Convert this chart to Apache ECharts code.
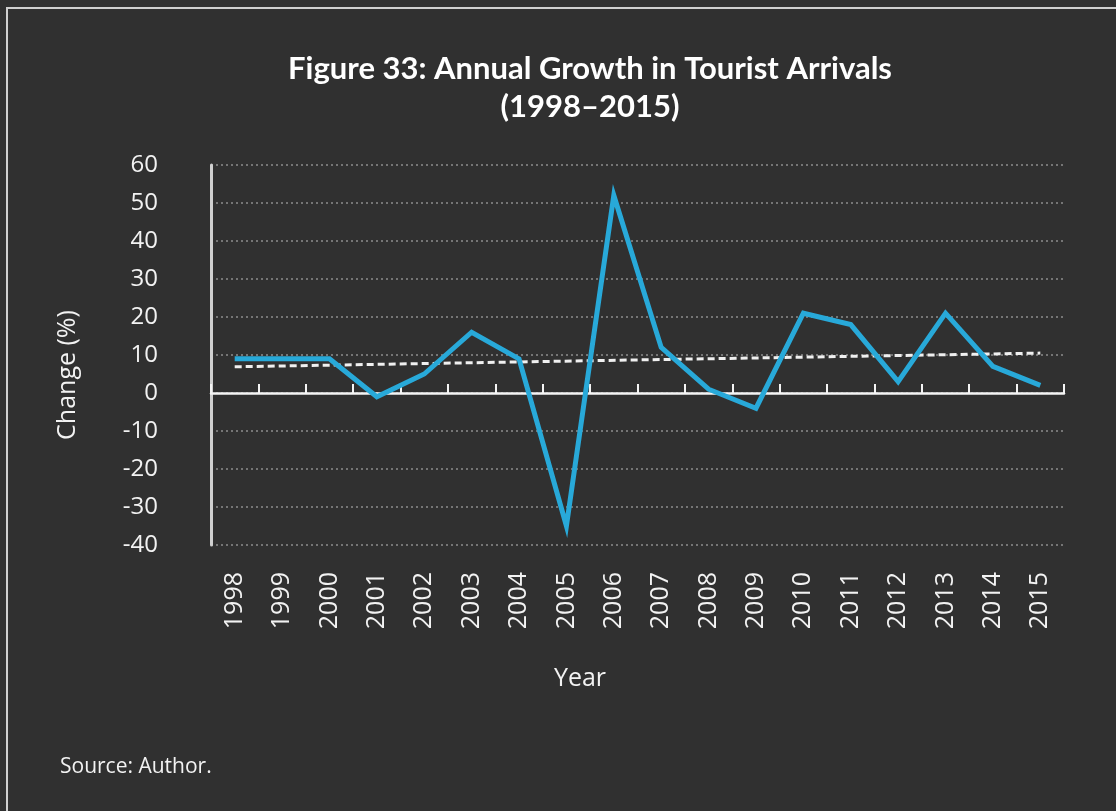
<!DOCTYPE html>
<html>
<head>
<meta charset="utf-8">
<title>Annual Growth in Tourist Arrivals</title>
<script src="https://cdn.jsdelivr.net/npm/echarts@6/dist/echarts.min.js"></script>
<style>
  html, body { margin: 0; padding: 0; background: #303030; }
  #main { width: 1116px; height: 811px; }
</style>
</head>
<body>
<div id="main"></div>
<script>
// years on the x axis
var years = ['1998', '1999', '2000', '2001', '2002', '2003', '2004', '2005', '2006',
  '2007', '2008', '2009', '2010', '2011', '2012', '2013', '2014', '2015'];
// annual change in arrivals (%)
var growth = [9, 9, 9, -1, 5, 16, 9, -35, 52, 12, 1, -4, 21, 18, 3, 21, 7, 2];
// dashed trend line, read at its two ends (1998, 2015)
var trendEnds = [6.9, 10.5];
// y ticks
var yMin = -40, yMax = 60, yStep = 10;

var chart = echarts.init(document.getElementById('main'));

var textColor = '#f2f2f2';
var font = '"Open Sans", "Noto Sans", sans-serif';

var option = {
  backgroundColor: '#303030',
  title: {
    text: 'Figure 33: Annual Growth in Tourist Arrivals\n(1998–2015)',
    left: 585,
    top: 45,
    textAlign: 'center',
    textStyle: {
      color: '#ffffff',
      fontFamily: 'Lato, sans-serif',
      fontWeight: 'bold',
      fontSize: 31,
      lineHeight: 38
    }
  },
  grid: {
    left: 211,
    right: 52,
    top: 165,
    bottom: 266
  },
  xAxis: [{
    // axis through zero, ticks only
    type: 'category',
    data: years,
    boundaryGap: true,
    axisLine: { onZero: true, lineStyle: { color: '#f4f4f4', width: 2.5 } },
    axisTick: { show: true, inside: true, length: 9, lineStyle: { color: '#f4f4f4', width: 2 } },
    axisLabel: { show: false },
    splitLine: { show: false }
  }, {
    // labels along the bottom
    type: 'category',
    data: years,
    position: 'bottom',
    boundaryGap: true,
    axisLine: { show: false, onZero: false },
    axisTick: { show: false },
    axisLabel: {
      rotate: 90,
      margin: 27,
      color: textColor,
      fontFamily: font,
      fontSize: 25
    },
    splitLine: { show: false }
  }],
  yAxis: {
    type: 'value',
    min: yMin,
    max: yMax,
    interval: yStep,
    axisLine: { show: true, onZero: false, lineStyle: { color: '#cfcfcf', width: 3 } },
    axisTick: { show: false },
    axisLabel: {
      margin: 53,
      color: textColor,
      fontFamily: font,
      fontSize: 24
    },
    splitLine: {
      show: true,
      lineStyle: { color: 'rgba(255,255,255,0.45)', type: [2, 3], width: 1.5 }
    }
  },
  series: [{
    name: 'Trend',
    type: 'line',
    xAxisIndex: 0,
    data: [[0, trendEnds[0]], [years.length - 1, trendEnds[1]]],
    symbol: 'none',
    silent: true,
    lineStyle: { color: '#f0f0f0', width: 3, type: [7, 4] },
    z: 2
  }, {
    name: 'Change (%)',
    type: 'line',
    xAxisIndex: 0,
    data: growth,
    symbol: 'none',
    lineStyle: { color: '#28a9d9', width: 5, join: 'miter' },
    z: 3
  }],
  graphic: [{
    type: 'rect',
    shape: { x: 7, y: 8, width: 1200, height: 900 },
    style: { fill: null, stroke: '#cfcfcf', lineWidth: 2 },
    silent: true
  }, {
    type: 'text',
    x: 68,
    y: 375,
    rotation: Math.PI / 2,
    style: {
      text: 'Change (%)',
      fill: textColor,
      font: '25px ' + font,
      textAlign: 'center',
      textVerticalAlign: 'middle'
    }
  }, {
    type: 'text',
    x: 580,
    y: 679,
    style: {
      text: 'Year',
      fill: textColor,
      font: '25px ' + font,
      textAlign: 'center',
      textVerticalAlign: 'middle'
    }
  }, {
    type: 'text',
    x: 60,
    y: 767,
    style: {
      text: 'Source: Author.',
      fill: textColor,
      font: '21px ' + font,
      textAlign: 'left',
      textVerticalAlign: 'middle'
    }
  }]
};

chart.setOption(option);
</script>
</body>
</html>
